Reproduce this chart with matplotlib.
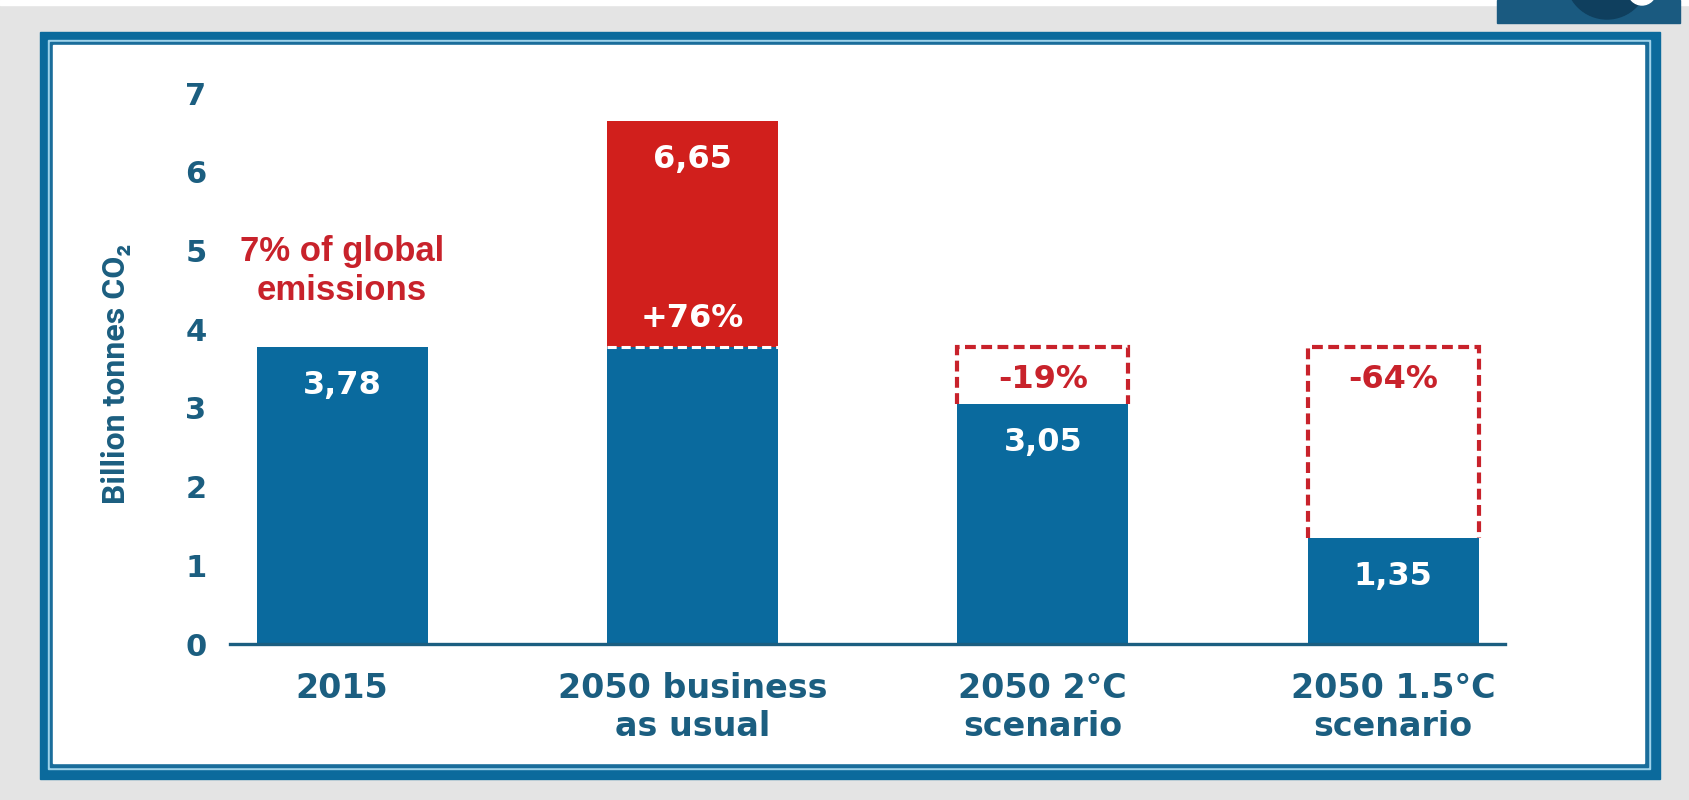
import numpy as np
import matplotlib
matplotlib.use("Agg")
import matplotlib.pyplot as plt
from matplotlib.patches import Rectangle, Circle

# data
categories = ["2015", "2050 business\nas usual", "2050 2°C\nscenario", "2050 1.5°C\nscenario"]
values = [3.78, 6.65, 3.05, 1.35]
baseline = 3.78
value_labels = ["3,78", "6,65", "3,05", "1,35"]
change_labels = ["", "+76%", "-19%", "-64%"]
yticks = [0, 1, 2, 3, 4, 5, 6, 7]
note = "7% of global\nemissions"

BLUE = "#0a6a9e"
DARK = "#1b5e80"
RED = "#d11f1c"
RED_TXT = "#c8222b"

fig = plt.figure(figsize=(16.89, 8), dpi=100, facecolor="#e4e4e4")

# background frame in pixel coords
bg = fig.add_axes([0, 0, 1, 1], zorder=0)
bg.set_xlim(0, 1689)
bg.set_ylim(800, 0)
bg.axis("off")
bg.add_patch(Rectangle((0, 0), 1689, 5, color="white"))
bg.add_patch(Rectangle((40, 32), 1620, 747, color="#0b6a9c"))
bg.add_patch(Rectangle((48, 40), 1602, 729, color="#9ed2ea"))
bg.add_patch(Rectangle((50, 42), 1598, 725, color="#1a6d9b"))
bg.add_patch(Rectangle((53, 45), 1591, 718, color="white"))
# corner logo (cropped)
logo = Rectangle((1497, 0), 183, 23, color="#1a5a80")
bg.add_patch(logo)
c1 = Circle((1607, -22), 41, color="#0f3f5e")
c1.set_clip_path(logo)
bg.add_patch(c1)
c2 = Circle((1642, -9), 14, color="white")
c2.set_clip_path(logo)
bg.add_patch(c2)

ax = fig.add_axes([0.1362, 0.195, 0.755, 0.728], zorder=1)
ax.patch.set_visible(False)

x = np.arange(len(categories))
vals = np.array(values)
width = 0.488

blue_part = np.minimum(vals, baseline)
red_part = np.where(vals > baseline, vals - baseline, 0)

ax.bar(x, blue_part, width, color=BLUE, zorder=2)
ax.bar(x, red_part, width, bottom=blue_part, color=RED, zorder=2)

for i, v in enumerate(vals):
    left, right = x[i] - width / 2, x[i] + width / 2
    ax.text(x[i], v - 0.49, value_labels[i], ha="center", va="center",
            color="white", fontsize=23, fontweight="bold", zorder=4)
    if v > baseline:
        ax.plot([left, right], [baseline, baseline], color="white", lw=2.2,
                dashes=(3, 1.6), zorder=3)
        ax.text(x[i], baseline + 0.36, change_labels[i], ha="center", va="center",
                color="white", fontsize=23, fontweight="bold", zorder=4)
    elif v < baseline:
        ax.plot([left, left, right, right], [v, baseline, baseline, v],
                color=RED_TXT, lw=3, dashes=(2.6, 1.3), zorder=3,
                solid_joinstyle="miter", dash_joinstyle="miter")
        ax.text(x[i], baseline - 0.42, change_labels[i], ha="center", va="center",
                color=RED_TXT, fontsize=23, fontweight="bold", zorder=4)

ax.text(x[0], 4.74, note, ha="center", va="center", color=RED_TXT,
        fontsize=25, fontweight="bold", family=["Liberation Sans", "DejaVu Sans"])

ax.set_xlim(-0.32, 3.32)
ax.set_ylim(0, 7.4)
ax.set_yticks(yticks)
ax.set_yticklabels([str(t) for t in yticks], fontsize=22, fontweight="bold", color=DARK)
ax.set_xticks(x)
ax.set_xticklabels(categories, fontsize=24, fontweight="bold", color=DARK)
ax.tick_params(axis="y", length=0, pad=17)
ax.tick_params(axis="x", length=0, pad=20)

for s in ["top", "right", "left"]:
    ax.spines[s].set_visible(False)
ax.spines["bottom"].set_color(DARK)
ax.spines["bottom"].set_linewidth(2.4)

fig.text(116 / 1689, 0.533, "Billion tonnes CO₂", rotation=90, ha="center", va="center",
         color=DARK, fontsize=23, fontweight="bold", family=["Roboto", "DejaVu Sans"])

fig.savefig("out.png", dpi=100, facecolor=fig.get_facecolor())
